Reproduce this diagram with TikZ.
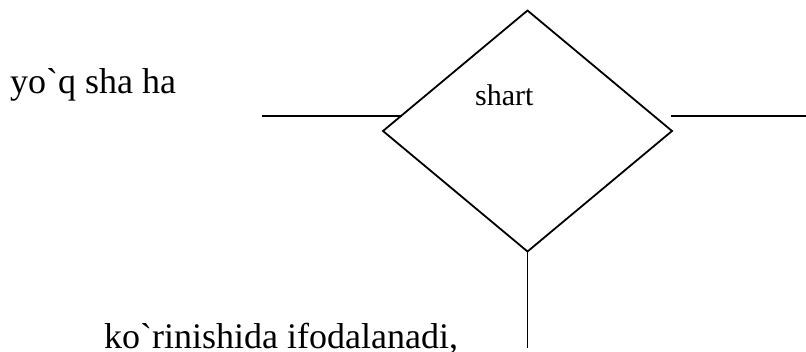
\documentclass[tikz,border=0pt]{standalone}
\usepackage{fontspec}
\setmainfont{Liberation Serif}
\usetikzlibrary{shapes.geometric,calc}
\tikzset{
  wire/.style={line width=1.8pt, line cap=butt},
  decision/.style={diamond, draw, line width=1.8pt, outer sep=0pt, inner sep=0pt,
    minimum width=289pt, minimum height=241pt},
  bigtext/.style={font=\fontsize{36}{40}\selectfont, inner sep=0pt, anchor=base west},
  smalltext/.style={font=\fontsize{30}{34}\selectfont, inner sep=0pt, anchor=base west}
}
\begin{document}
\begin{tikzpicture}[x=1pt,y=1pt]
  \useasboundingbox (0,0) rectangle (806,-351);
  % decision block
  \node[decision] (cond) at (527.5,-131) {};
  \node[smalltext] (condtext) at (475,-105) {shart};
  % texts
  \node[bigtext] (no) at (10,-93) {yo\textasciigrave q sha ha};
  \node[bigtext] (form) at (104,-348) {ko\textasciigrave rinishida ifodalanadi,};
  % free ends of the connectors
  \coordinate (inL) at (262,-116);
  \coordinate (outRa) at (671,-116);
  \coordinate (outRb) at (806,-116);
  \coordinate (outB) at (527.5,-348);
  % connectors
  \draw[wire] (inL) -- ($(cond.west)!0.124!(cond.north)$);
  \draw[wire] (outRa) -- (outRb);
  \draw[wire] (cond.south) -- (outB);
\end{tikzpicture}
\end{document}
